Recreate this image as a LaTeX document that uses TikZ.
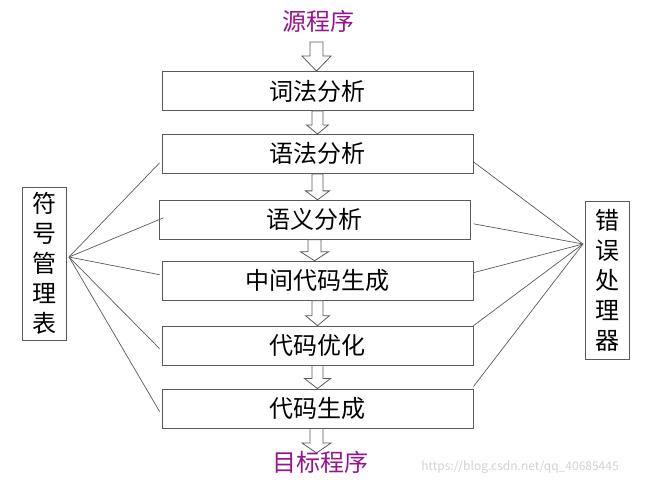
\documentclass[tikz,border=0pt]{standalone}
\usepackage{fontspec}
\setmainfont{Noto Sans CJK SC}
\usepackage{xcolor}
\definecolor{srcpurple}{RGB}{150,20,140}
\definecolor{linegray}{RGB}{90,90,90}
\usepackage{tikz}
\usetikzlibrary{calc, positioning}
\tikzstyle{phase}=[rectangle, minimum width=311pt, minimum height=39pt,
  inner sep=0pt, text centered, draw=linegray, line width=0.9pt,
  font=\fontsize{24}{28}\selectfont]
\tikzstyle{side}=[rectangle, minimum width=44pt, inner sep=0pt, align=center,
  draw=linegray, line width=0.9pt, font=\fontsize{24}{30}\selectfont]
\tikzstyle{endtext}=[text=srcpurple, font=\fontsize{24}{28}\selectfont]
\tikzstyle{link}=[draw=linegray, line width=0.7pt]
\tikzstyle{blockarrow}=[draw=linegray, fill=white, line width=0.8pt, line join=miter]
% hollow down arrow: top, tip, shaft half width, head half width, head length
\newcommand{\hollowarrow}[5]{%
  \draw[blockarrow] ($(#1)+(-#3,0)$) -- ($(#2)+(-#3,-#5)$) -- ($(#2)+(-#4,-#5)$)
    -- (#2) -- ($(#2)+(#4,-#5)$) -- ($(#2)+(#3,-#5)$) -- ($(#1)+(#3,0)$) -- cycle;}

\begin{document}
\begin{tikzpicture}[x=1pt, y=-1pt]
  \useasboundingbox (0,0) rectangle (650,485);
  \node[phase] (t1) at (317.5,91) {词法分析};
  \node[phase, below=23pt of t1] (t2) {语法分析};
  \node[phase, below=26pt of t2, xshift=-3pt] (t3) {语义分析};
  \node[phase, below=21pt of t3, xshift=3pt] (t4) {中间代码生成};
  \node[phase, below=25pt of t4] (t5) {代码优化};
  \node[phase, below=23pt of t5] (t6) {代码生成};
  \node[endtext] (src) at (318,21) {源程序};
  \node[side, minimum height=153pt] (sym) at (44,263.5) {符\\号\\管\\理\\表};
  \node[side, minimum height=158pt] (err) at (607,280) {错\\误\\处\\理\\器};
  \node[text=black!18, font=\fontsize{12}{14}\selectfont] (wm) at (520,467)
    {https://blog.csdn.net/qq\_40685445};
  \coordinate (symhub) at (69,257);
  \coordinate (errhub) at (583,244);
  % block arrows along the chain
  \coordinate (srcend) at (316.5,42);
  \hollowarrow{srcend}{t1.north -| srcend}{6.5}{14.5}{15}
  \hollowarrow{t1.south}{t1.south |- t2.north}{5.5}{11}{9}
  \hollowarrow{t2.south}{t2.south |- t3.north}{5.5}{12}{9}
  \hollowarrow{t3.south}{t3.south |- t4.north}{6.5}{14}{9}
  \hollowarrow{t4.south}{t4.south |- t5.north}{5.5}{12}{10}
  \hollowarrow{t5.south}{t5.south |- t6.north}{5.5}{13}{10}
  \coordinate (dstend) at (316.5,453);
  \hollowarrow{t6.south -| dstend}{dstend}{6.5}{14.5}{10}
  \node[endtext] (dst) at (320,462) {目标程序};
  % symbol table links
  \draw[link] (symhub) -- ($(t2.west)+(-2,9)$);
  \draw[link] (symhub) -- ($(t3.west)+(5,-2)$);
  \draw[link] (symhub) -- ($(t4.west)+(-2,-6)$);
  \draw[link] (symhub) -- ($(t5.west)+(-2,3)$);
  \draw[link] (symhub) -- ($(t6.west)+(-2,3)$);
  % error handler links
  \draw[link] (errhub) -- ($(t2.east)+(0,8)$);
  \draw[link] (errhub) -- ($(t3.east)+(3,4)$);
  \draw[link] (errhub) -- ($(t4.east)+(0,-8)$);
  \draw[link] (errhub) -- (t5.north east);
  \draw[link] (errhub) -- ($(t6.north east)+(0,-2)$);
\end{tikzpicture}
\end{document}
